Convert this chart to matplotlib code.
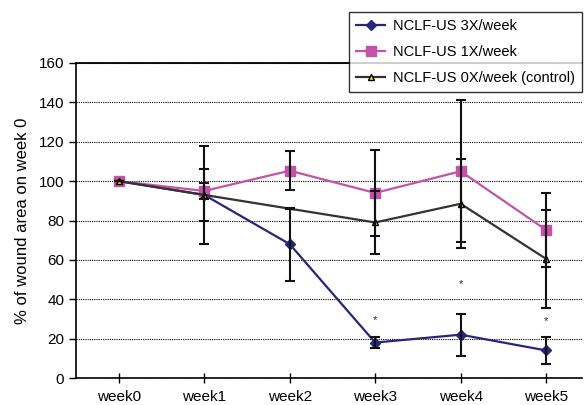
import numpy as np
import matplotlib
matplotlib.use("Agg")
import matplotlib.pyplot as plt

plt.rcParams['font.family'] = ['Liberation Sans', 'DejaVu Sans']

weeks = ["week0", "week1", "week2", "week3", "week4", "week5"]

us3 = [100, 93, 68, 18, 22, 14]
us3_err = [0, 13, 18.6, 3, 10.7, 6.8]

us1 = [100, 95, 105.3, 94, 105, 75.2]
us1_err = [0, 4, 10, 22, 36, 18.6]

ctrl = [100, 93, 86, 79, 88.5, 60.5]
ctrl_err = [0, 25, 0, 16, 22.5, 25]

star_weeks = [3, 4, 5]
star_y = [29.5, 47.5, 29]

x = np.arange(len(weeks))

fig = plt.figure(figsize=(5.84, 4.05), dpi=100)
ax = fig.add_axes([76/584, 27/405, 506/584, 315/405])

navy = "#26267f"
pink = "#c452a8"
grey = "#333333"

l1, = ax.plot(x, us3, color=navy, lw=1.6, marker="D", ms=5, mfc=navy, mec=navy, zorder=3,
              label="NCLF-US 3X/week")
l2, = ax.plot(x, us1, color=pink, lw=1.6, marker="s", ms=7, mfc=pink, mec=pink, zorder=3,
              label="NCLF-US 1X/week")
l3, = ax.plot(x, ctrl, color=grey, lw=1.6, marker="^", ms=5, mfc="#f2e600", mec="black",
              markevery=[0, 1, 3, 4, 5], zorder=3, label="NCLF-US 0X/week (control)")

for vals, errs in [(us3, us3_err), (us1, us1_err), (ctrl, ctrl_err)]:
    ax.errorbar(x, vals, yerr=errs, fmt="none", ecolor="#111111", elinewidth=1.5,
                capsize=3.5, capthick=1.5, zorder=4)

for w, y in zip(star_weeks, star_y):
    ax.text(w, y, "*", ha="center", va="center", fontsize=8, color="#222222")

ax.set_xlim(-0.5, 5.42)
ax.set_ylim(0, 160)
ax.set_yticks(np.arange(0, 161, 20))
ax.set_xticks(x)
ax.set_xticklabels(weeks)
ax.tick_params(axis="y", direction="out", length=5, width=1, labelsize=11, colors="black")
ax.tick_params(axis="x", direction="inout", length=7, width=1, labelsize=11, pad=5)

ax.yaxis.grid(True, color="black", linestyle=(0, (1, 1)), lw=0.8)
ax.set_axisbelow(True)

ax.spines["right"].set_visible(False)
ax.spines["top"].set_linewidth(1.3)
ax.spines["left"].set_linewidth(1.2)
ax.spines["bottom"].set_linewidth(1.2)

ax.set_ylabel("% of wound area on week 0", fontsize=12, labelpad=6)

leg = fig.legend(handles=[l1, l2, l3], loc="upper right", bbox_to_anchor=(582/584, 1 - 12/405),
                 fontsize=10.5, frameon=True, fancybox=False, borderpad=0.5, labelspacing=0.8,
                 handlelength=2.0, handletextpad=0.5, borderaxespad=0)
leg.get_frame().set_edgecolor("black")
leg.get_frame().set_linewidth(1.0)

fig.savefig("out.png", dpi=100)
